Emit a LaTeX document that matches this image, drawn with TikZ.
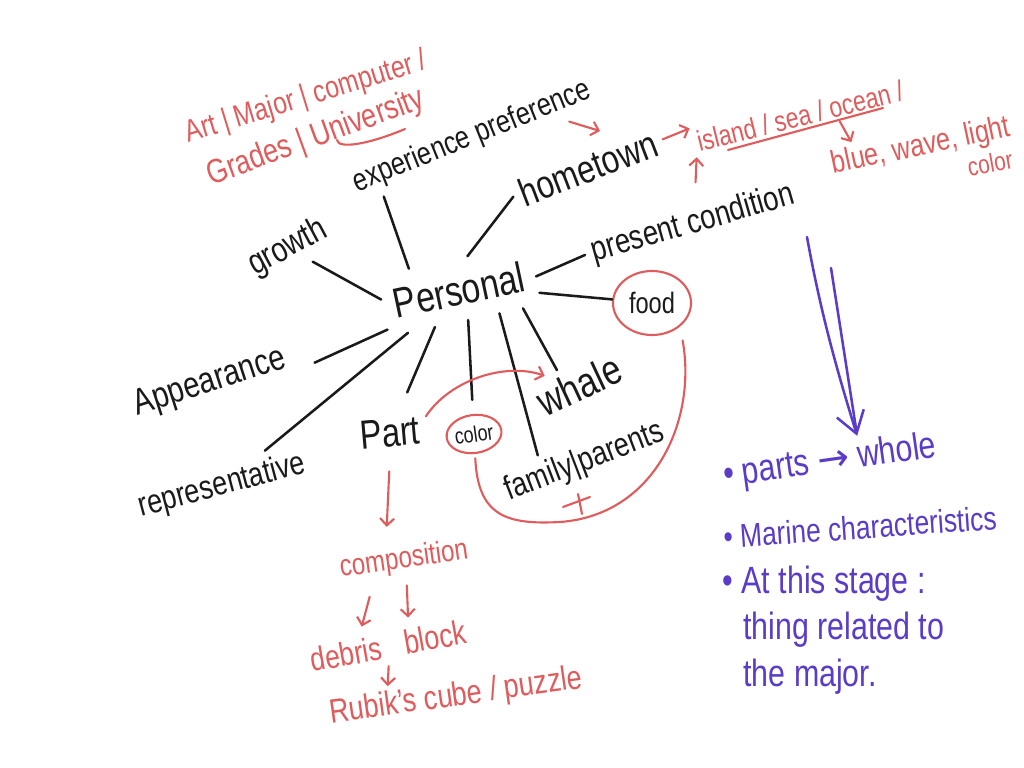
\documentclass[tikz,border=0pt]{standalone}
\usepackage{fontspec}
\setmainfont{Liberation Sans}[FakeStretch=0.8]
\newfontfamily\arrowfont{DejaVu Sans}
\usepackage{xcolor}
\usetikzlibrary{arrows.meta,shapes.geometric}

\definecolor{ink}{HTML}{1A1A1A}
\definecolor{pen}{HTML}{E05C5C}
\definecolor{marker}{HTML}{5A3CC8}
\newcommand{\fs}[1]{\fontsize{#1}{#1}\selectfont}

\begin{document}
\begin{tikzpicture}[x=0.025cm,y=-0.025cm]
    \tikzset{word/.style={text=ink,inner sep=5pt},
        note/.style={text=pen,inner sep=3pt},
        item/.style={text=marker,inner sep=3pt},
        ring/.style={ellipse,draw=pen,line width=1.5pt,inner sep=0pt},
        ray/.style={draw=ink,line width=1.8pt,line cap=round},
        redline/.style={draw=pen,line width=1.5pt,line cap=round},
        redarr/.style={redline,-{Straight Barb[length=5pt,width=10pt]}},
        violetline/.style={draw=marker,line width=1.8pt,line cap=round},
        violetarr/.style={violetline,-{Straight Barb[length=15pt,width=20pt]}}}
    \useasboundingbox (0,0) rectangle (1024,768);
    \fill[white] (0,0) rectangle (1024,768);
    % centre word and its branches
    \node[word,inner xsep=8pt,inner ysep=11pt,rotate=12,font=\fs{30}] (per) at (459,290) {Personal};
    \node[word,rotate=28,font=\fs{25}] (growth) at (288,248) {growth};
    \node[word,rotate=22,font=\fs{22.6}] (exp) at (472,137) {experience preference};
    \node[word,rotate=21,font=\fs{28}] (home) at (588,168) {hometown};
    \node[word,rotate=16,font=\fs{24.5}] (pres) at (693,224) {present condition};
    \node[word,ring,minimum width=1.95cm,minimum height=1.6cm,font=\fs{21}] (food) at (652,303) {food};
    \node[word,rotate=18,font=\fs{26}] (app) at (210,383) {Appearance};
    \node[word,rotate=15,font=\fs{24}] (rep) at (222,486) {representative};
    \node[word,rotate=5,font=\fs{29}] (part) at (390,433) {Part};
    \node[word,ring,rotate=8,minimum width=1.35cm,minimum height=0.95cm,font=\fs{16}] (color) at (474,434) {color};
    \node[word,rotate=25,font=\fs{30}] (whale) at (579,385) {whale};
    \node[word,rotate=21,font=\fs{24}] (fam) at (585,462) {family|parents};
    % red notes
    \node[note,rotate=17,font=\fs{22}] (art) at (306,98) {Art | Major | computer /};
    \node[note,rotate=20,font=\fs{24}] (grades) at (316,138) {Grades | University};
    \node[note,rotate=14,font=\fs{20.5}] (isl) at (800,116) {island / sea / ocean /};
    \node[note,rotate=12,font=\fs{22.5}] (blue) at (921,147) {blue, wave, light};
    \node[note,rotate=10,font=\fs{18.5}] (tint) at (990,163) {color};
    \node[note,rotate=8,font=\fs{21.5}] (comp) at (404,560) {composition};
    \node[note,rotate=10,font=\fs{23.5}] (debris) at (346,654) {debris};
    \node[note,rotate=10,font=\fs{24}] (block) at (435,637) {block};
    \node[note,rotate=8,font=\fs{24}] (rubik) at (456,697) {Rubik's cube / puzzle};
    % purple list
    \node[item,rotate=8,font=\fs{27}] (parts) at (830,462) {\textbullet\ parts {\arrowfont →} whole};
    \node[item,rotate=4,font=\fs{23.5}] (marine) at (860,527) {\textbullet\ Marine characteristics};
    \node[item,anchor=west,align=left,font=\fontsize{27}{33}\selectfont] (stage) at (718,630)
        {\textbullet\ At this stage :\\\hspace{0.55em}thing related to\\\hspace{0.55em}the major.};

    \draw[ray] (per.175) -- (growth);
    \draw[ray] (per.145) -- (exp.192);
    \draw[ray] (per.64) -- (home.west);
    \draw[ray] (per.358) -- (pres.west);
    \draw[ray] (per.346) -- (food);
    \draw[ray] (per.332) -- (whale.121);
    \draw[ray] (per.318) -- (fam.151);
    \draw[ray,shorten >=10pt] (per.275) -- (color);
    \draw[ray,shorten >=14pt] (per.225) -- (part);
    \draw[ray] (per.208) -- (rep);
    \draw[ray,shorten >=14pt] (per.197) -- (app.-10);

    % red arrows
    \coordinate (prefTip) at (600,131);
    \draw[redarr] (exp.-13) -- (prefTip);
    \draw[redline] (337,140) .. controls (338,149) and (367,145) .. (405,129);
    \draw[redarr,shorten >=2pt] (home.east) -- (isl.172);
    \draw[redline] (728,150) -- (883,108);
    \draw[redarr] (isl.-22) -- (blue.164);
    \draw[redarr,shorten <=12pt] (pres.70) -- (isl.south west);
    \draw[redarr] (part.20) .. controls (450,380) and (505,362) .. (whale.140);
    \draw[redline,shorten <=3pt,shorten >=10pt] (color.-95) .. controls (478,515) and (505,525) .. (560,522)
        .. controls (655,515) and (697,420) .. (food.-40);
    \draw[redline] (563,507) -- (590,497);
    \draw[redline] (578,494) -- (582,514);
    \draw[redarr,shorten <=12pt,shorten >=12pt] (part.265) -- (comp.130);
    \draw[redarr,shorten <=10pt,shorten >=6pt] (comp.209) -- (debris.45);
    \draw[redarr,shorten <=5pt,shorten >=5pt] (comp.south) -- (block.145);
    \draw[redarr,shorten <=2pt] (debris.south east) -- (rubik.163);

    % purple arrow
    \coordinate (cueA) at (807,237);
    \coordinate (cueB) at (831,268);
    \draw[violetarr] (cueA) .. controls (822,320) and (840,380) .. (parts.36);
    \draw[violetline,shorten >=2pt] (cueB) -- (parts.36);
\end{tikzpicture}
\end{document}
